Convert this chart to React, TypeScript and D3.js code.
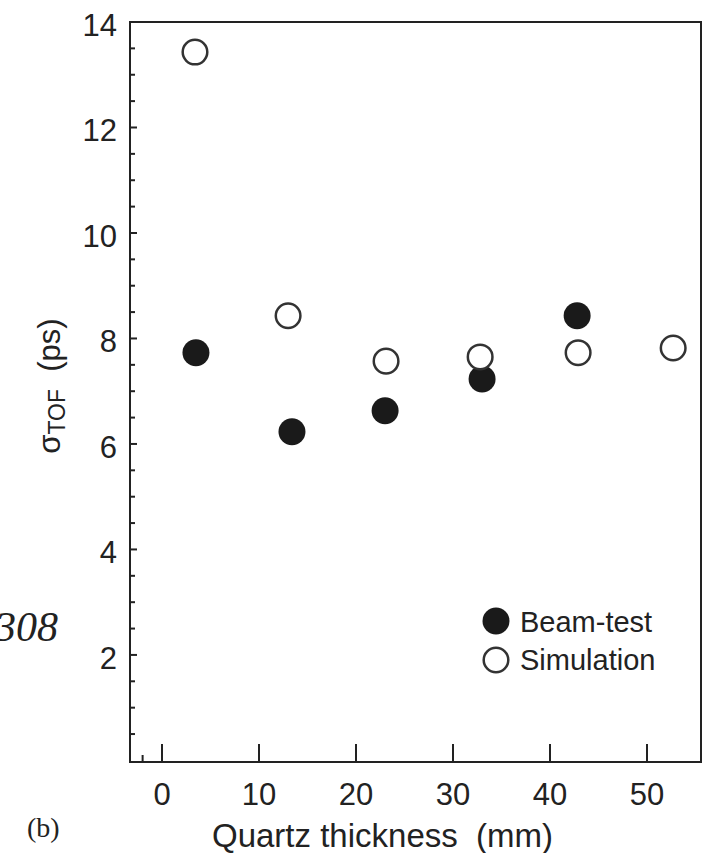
import React from "react";
import * as d3 from "d3";

const beamX = [3.5, 13.4, 23.0, 33.0, 42.8];
const beamY = [7.73, 6.23, 6.63, 7.23, 8.43];
const simX = [3.4, 13.0, 23.1, 32.8, 42.9, 52.7];
const simY = [13.43, 8.43, 7.57, 7.65, 7.73, 7.82];
const xTicks = [0, 10, 20, 30, 40, 50];
const xMinorTicks = [-2];
const yTicks = [2, 4, 6, 8, 10, 12, 14];
const yMinorTicks = d3.range(1, 28).map((d) => d * 0.5).filter((d) => d % 2 !== 0);
const legendLabels = ["Beam-test", "Simulation"];

const W = 706;
const H = 853;
const FONT = "'Liberation Sans', Arial, Helvetica, sans-serif";
const INK = "#222";

export default function App() {
  const x = d3.scaleLinear().domain([-3.3, 55.57]).range([130, 701]);
  const y = d3.scaleLinear().domain([-0.03, 14]).range([762, 22]);
  const left = x.range()[0];
  const right = x.range()[1];
  const top = y.range()[1];
  const bottom = y.range()[0];
  const r = 13.5;

  return (
    <svg
      width={W}
      height={H}
      style={{ position: "absolute", left: 0, top: 0, background: "#fff" }}
      fontFamily={FONT}
    >
      {/* frame */}
      <rect x={left} y={top} width={right - left} height={bottom - top} fill="none" stroke={INK} strokeWidth={2} />

      {/* y ticks */}
      {yMinorTicks.map((t) => (
        <line key={"ym" + t} x1={left} x2={left + 5} y1={y(t)} y2={y(t)} stroke={INK} strokeWidth={2} />
      ))}
      {yTicks.map((t) => (
        <g key={"y" + t}>
          <line x1={left} x2={left + 7} y1={y(t)} y2={y(t)} stroke={INK} strokeWidth={2} />
          <text x={117} y={y(t) + 14} textAnchor="end" fontSize={31} fill={INK}>
            {t}
          </text>
        </g>
      ))}

      {/* x ticks */}
      {xMinorTicks.map((t) => (
        <line key={"xm" + t} x1={x(t)} x2={x(t)} y1={bottom} y2={bottom - 7} stroke={INK} strokeWidth={2} />
      ))}
      {xTicks.map((t) => (
        <g key={"x" + t}>
          <line x1={x(t)} x2={x(t)} y1={bottom} y2={bottom - 18} stroke={INK} strokeWidth={2} />
          <text x={x(t)} y={805} textAnchor="middle" fontSize={31} fill={INK}>
            {t}
          </text>
        </g>
      ))}

      {/* axis titles */}
      <text x={212} y={847} fontSize={33} fill={INK} style={{ whiteSpace: "pre" }}>
        {"Quartz thickness  (mm)"}
      </text>
      <text
        transform="translate(60,386) rotate(-90)"
        textAnchor="middle"
        fontSize={31}
        fill={INK}
        style={{ whiteSpace: "pre" }}
      >
        <tspan>σ</tspan>
        <tspan fontSize={23} dy={5}>TOF</tspan>
        <tspan dy={-5}>{"  (ps)"}</tspan>
      </text>

      {/* side texts */}
      <text x={58} y={641} textAnchor="end" fontSize={42} fontStyle="italic" fontFamily="'Liberation Serif', 'Times New Roman', serif" fill={INK}>
        308
      </text>
      <text x={27} y={837} fontSize={28} fontFamily="'Liberation Serif', 'Times New Roman', serif" fill={INK}>
        (b)
      </text>

      {/* data */}
      {beamX.map((v, i) => (
        <circle key={"b" + i} cx={x(v)} cy={y(beamY[i])} r={r} fill="#1a1a1a" />
      ))}
      {simX.map((v, i) => (
        <circle key={"s" + i} cx={x(v)} cy={y(simY[i])} r={r - 1.2} fill="#fff" stroke="#333" strokeWidth={2.5} />
      ))}

      {/* legend */}
      <circle cx={496} cy={621} r={r} fill="#1a1a1a" />
      <text x={520} y={632} fontSize={29} fill={INK}>{legendLabels[0]}</text>
      <circle cx={496} cy={660} r={r - 1.2} fill="#fff" stroke="#333" strokeWidth={2.5} />
      <text x={520} y={670} fontSize={29} fill={INK}>{legendLabels[1]}</text>
    </svg>
  );
}
